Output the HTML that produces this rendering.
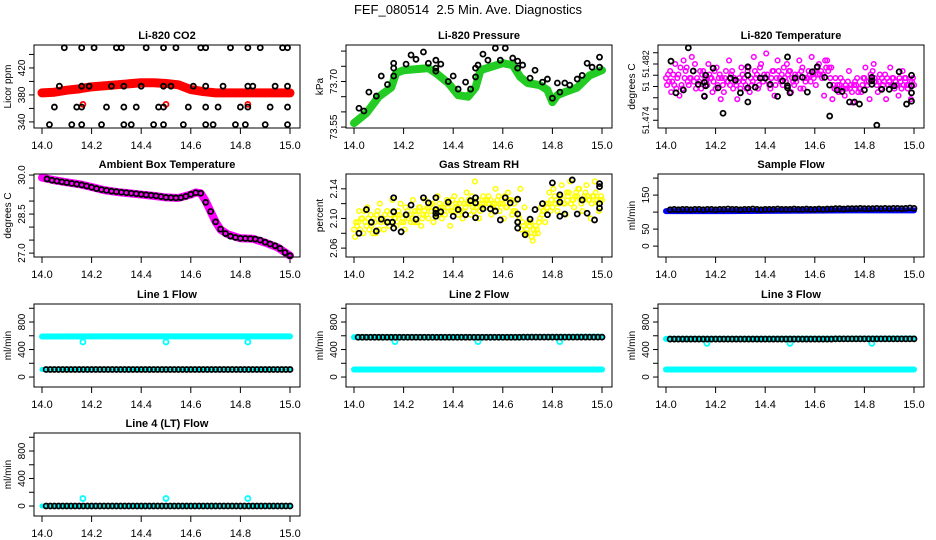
<!DOCTYPE html>
<html><head><meta charset="utf-8"><style>
html,body{margin:0;padding:0;background:#fff;}
svg{display:block;font-family:"Liberation Sans",Arial,sans-serif;}
</style></head><body>
<svg id="chart" width="936" height="540" viewBox="0 0 936 540" xmlns="http://www.w3.org/2000/svg">
<rect width="936" height="540" fill="#fff"/>
<text x="468" y="14" text-anchor="middle" font-size="13" style="white-space:pre">FEF_080514  2.5 Min. Ave. Diagnostics</text>
</svg>
<script>
// ---------- data ----------
const xTicks=[14.0,14.2,14.4,14.6,14.8,15.0];
// CO2
const co2BandX=[14.0,14.05,14.1,14.15,14.2,14.3,14.4,14.45,14.5,14.55,14.6,14.65,14.7,14.8,14.9,15.0];
const co2Band=[383,384,387,389,392,395,398,398,397,395,388,385,383,383,383,383];
const co2RedX=[14.165,14.5,14.83];
const co2Red=[366,366,366];
const co2BlackX=[14.09,14.16,14.21,14.30,14.32,14.42,14.49,14.54,14.64,14.66,14.76,14.83,14.88,14.97,14.99,
14.07,14.16,14.19,14.28,14.33,14.40,14.49,14.52,14.61,14.66,14.73,14.83,14.85,14.94,14.99,
14.05,14.14,14.16,14.26,14.33,14.38,14.47,14.49,14.59,14.66,14.71,14.80,14.83,14.92,14.99,
14.03,14.12,14.16,14.24,14.33,14.36,14.45,14.49,14.57,14.66,14.69,14.78,14.82,14.90,14.99];
const co2Black=[450,450,450,450,450,450,450,450,450,450,450,450,450,450,450,
393,393,393,393,393,393,393,393,393,393,393,393,393,393,393,
362,362,362,362,362,362,362,362,362,362,362,362,362,362,362,
336,336,336,336,336,336,336,336,336,336,336,336,336,336,336];
// Pressure
const prBandX=[14.0,14.05,14.1,14.15,14.17,14.2,14.3,14.33,14.38,14.42,14.46,14.49,14.51,14.6,14.64,14.67,14.7,14.75,14.78,14.8,14.82,14.85,14.9,14.95,15.0];
const prBand=[73.563,73.596,73.65,73.68,73.728,73.737,73.744,73.728,73.695,73.655,73.65,73.68,73.737,73.76,73.754,73.715,73.695,73.688,73.672,73.632,73.655,73.665,73.68,73.72,73.737];
const prBlackX=[14.02,14.04,14.06,14.09,14.11,14.135,14.16,14.16,14.16,14.21,14.23,14.25,14.28,14.30,14.33,14.33,14.33,14.35,14.38,14.40,14.42,14.45,14.47,14.49,14.49,14.50,14.52,14.54,14.57,14.59,14.61,14.64,14.66,14.66,14.68,14.71,14.73,14.76,14.78,14.80,14.82,14.83,14.85,14.87,14.90,14.92,14.94,14.96,14.99,14.99];
const prBlack=[73.612,73.603,73.665,73.652,73.718,73.69,73.76,73.744,73.718,73.757,73.787,73.773,73.797,73.76,73.77,73.744,73.734,73.757,73.70,73.718,73.675,73.698,73.675,73.744,73.715,73.754,73.79,73.77,73.81,73.77,73.81,73.777,73.767,73.744,73.754,73.711,73.737,73.698,73.708,73.645,73.695,73.665,73.695,73.688,73.708,73.72,73.76,73.747,73.78,73.747];
// Li-820 temperature
const pinkA=[51.4800,51.4810,51.4790,51.4805,51.4785,51.4815,51.4800,51.4820,51.4795,51.4810,51.4790,51.4800,51.4785,51.4805,51.4780,51.4795,51.4810,51.4790,51.4785,51.4800,51.4815,51.4795,51.4805,51.4820,51.4800,51.4790,51.4810,51.4825,51.4805,51.4795,51.4810,51.4790,51.4805,51.4815,51.4800,51.4795,51.4810,51.4820,51.4805,51.4825,51.4815,51.4800,51.4790,51.4785,51.4795,51.4780,51.4790,51.4785,51.4800,51.4795,51.4810,51.4790,51.4785,51.4805,51.4795,51.4800,51.4790,51.4785,51.4800,51.4795,51.4790];
const pinkB=[51.4790,51.4780,51.4820,51.4775,51.4825,51.4795,51.4830,51.4785,51.4810,51.4775,51.4820,51.4780,51.4815,51.4770,51.4800,51.4825,51.4785,51.4770,51.4815,51.4790,51.4780,51.4830,51.4785,51.4800,51.4835,51.4785,51.4775,51.4810,51.4790,51.4820,51.4780,51.4805,51.4825,51.4785,51.4800,51.4830,51.4790,51.4805,51.4775,51.4810,51.4770,51.4785,51.4800,51.4775,51.4810,51.4765,51.4800,51.4780,51.4815,51.4770,51.4820,51.4780,51.4800,51.4770,51.4815,51.4785,51.4775,51.4810,51.4790,51.4770,51.4800];
const pinkC=[51.4805,51.4795,51.4785,51.4815,51.4800,51.4790,51.4810,51.4800,51.4785,51.4800,51.4805,51.4795,51.4790,51.4800,51.4810,51.4790,51.4800,51.4795,51.4805,51.4785,51.4800,51.4810,51.4790,51.4795,51.4805,51.4800,51.4790,51.4800,51.4815,51.4805,51.4800,51.4795,51.4785,51.4800,51.4810,51.4805,51.4815,51.4810,51.4825,51.4815,51.4790,51.4790,51.4785,51.4790,51.4785,51.4790,51.4780,51.4790,51.4795,51.4805,51.4800,51.4795,51.4790,51.4800,51.4790,51.4795,51.4800,51.4790,51.4785,51.4795,51.4800];
const pinkD=[51.4795,51.4805,51.4800,51.4790,51.4810,51.4800,51.4795,51.4790,51.4805,51.4795,51.4800,51.4810,51.4800,51.4790,51.4795,51.4805,51.4795,51.4800,51.4795,51.4810,51.4790,51.4800,51.4815,51.4805,51.4795,51.4810,51.4800,51.4795,51.4800,51.4810,51.4795,51.4800,51.4810,51.4795,51.4805,51.4800,51.4805,51.4800,51.4815,51.4800,51.4785,51.4780,51.4795,51.4785,51.4790,51.4795,51.4785,51.4800,51.4790,51.4800,51.4795,51.4805,51.4795,51.4790,51.4800,51.4790,51.4795,51.4800,51.4790,51.4800,51.4795];
const tBlackX=[14.02,14.04,14.07,14.09,14.11,14.13,14.155,14.16,14.16,14.155,14.19,14.21,14.23,14.26,14.28,14.30,14.33,14.33,14.33,14.33,14.36,14.38,14.40,14.42,14.45,14.47,14.49,14.49,14.49,14.50,14.52,14.55,14.57,14.59,14.61,14.64,14.66,14.66,14.69,14.71,14.74,14.76,14.78,14.80,14.83,14.83,14.83,14.85,14.87,14.90,14.92,14.94,14.97,14.99,14.99,14.99,14.99];
const tBlack=[51.4824,51.4779,51.4783,51.4843,51.4810,51.4791,51.4794,51.4804,51.4789,51.4774,51.4814,51.4786,51.4750,51.4800,51.4797,51.4779,51.4786,51.4804,51.4816,51.4766,51.4787,51.4800,51.4800,51.4791,51.4774,51.4796,51.4789,51.4786,51.4830,51.4779,51.4800,51.4801,51.4780,51.4809,51.4816,51.4801,51.4790,51.4746,51.4783,51.4781,51.4766,51.4766,51.4763,51.4783,51.4791,51.4801,51.4796,51.4733,51.4784,51.4784,51.4789,51.4809,51.4763,51.4804,51.4789,51.4779,51.4767];
// Ambient box temperature
const ambBandX=[14.0,14.05,14.1,14.15,14.2,14.25,14.3,14.35,14.4,14.45,14.5,14.55,14.6,14.62,14.64,14.66,14.68,14.7,14.72,14.75,14.8,14.85,14.9,14.95,15.0];
const ambBand=[29.9,29.8,29.72,29.65,29.54,29.42,29.35,29.3,29.25,29.2,29.14,29.12,29.25,29.33,29.3,29.0,28.6,28.2,27.9,27.72,27.57,27.55,27.4,27.22,26.9];
const ambBlack=[29.85,29.8,29.77,29.74,29.71,29.68,29.65,29.62,29.58,29.53,29.48,29.44,29.41,29.38,29.36,29.34,29.32,29.30,29.28,29.26,29.24,29.22,29.20,29.17,29.14,29.13,29.12,29.13,29.18,29.26,29.32,29.3,28.95,28.6,28.2,27.92,27.75,27.65,27.6,27.57,27.56,27.55,27.54,27.5,27.42,27.35,27.28,27.18,27.02,26.9];
// Gas stream RH
const yelA=[2.085,2.095,2.100,2.090,2.105,2.095,2.085,2.100,2.110,2.095,2.100,2.105,2.095,2.110,2.100,2.105,2.115,2.110,2.100,2.120,2.110,2.115,2.105,2.120,2.110,2.115,2.125,2.115,2.120,2.110,2.125,2.120,2.115,2.125,2.120,2.130,2.120,2.115,2.125,2.110,2.100,2.090,2.080,2.075,2.090,2.100,2.110,2.120,2.115,2.125,2.130,2.120,2.135,2.125,2.130,2.120,2.135,2.125,2.130,2.120,2.125];
const yelB=[2.075,2.110,2.080,2.115,2.090,2.080,2.120,2.085,2.095,2.125,2.090,2.120,2.085,2.100,2.125,2.095,2.090,2.125,2.115,2.095,2.130,2.100,2.120,2.090,2.130,2.105,2.100,2.135,2.105,2.150,2.100,2.130,2.125,2.105,2.140,2.110,2.100,2.135,2.105,2.125,2.140,2.115,2.095,2.070,2.085,2.115,2.095,2.135,2.140,2.110,2.145,2.105,2.150,2.115,2.140,2.110,2.145,2.100,2.150,2.110,2.140];
const yelC=[2.095,2.085,2.110,2.100,2.080,2.105,2.095,2.105,2.090,2.110,2.105,2.095,2.115,2.105,2.095,2.110,2.100,2.105,2.120,2.110,2.105,2.115,2.125,2.110,2.115,2.120,2.110,2.120,2.130,2.115,2.110,2.120,2.130,2.120,2.115,2.120,2.130,2.125,2.110,2.095,2.085,2.080,2.090,2.085,2.080,2.105,2.120,2.110,2.130,2.120,2.125,2.135,2.120,2.130,2.140,2.125,2.130,2.120,2.135,2.125,2.130];
const yelD=[2.090,2.100,2.095,2.085,2.100,2.110,2.100,2.095,2.105,2.100,2.110,2.100,2.105,2.095,2.110,2.115,2.105,2.115,2.110,2.105,2.120,2.110,2.115,2.125,2.120,2.110,2.120,2.125,2.115,2.120,2.115,2.125,2.120,2.115,2.125,2.125,2.115,2.120,2.120,2.105,2.095,2.085,2.095,2.080,2.095,2.110,2.115,2.125,2.120,2.130,2.120,2.130,2.125,2.135,2.125,2.130,2.125,2.130,2.125,2.130,2.120];
const rhBlackX=[14.02,14.05,14.07,14.09,14.11,14.135,14.155,14.16,14.16,14.16,14.19,14.21,14.23,14.25,14.28,14.30,14.33,14.33,14.33,14.33,14.35,14.38,14.40,14.42,14.45,14.47,14.49,14.49,14.49,14.52,14.55,14.57,14.59,14.61,14.63,14.66,14.66,14.66,14.66,14.69,14.71,14.73,14.76,14.78,14.80,14.83,14.83,14.83,14.85,14.88,14.90,14.92,14.94,14.97,14.99,14.99,14.99,14.99];
const rhBlack=[2.080,2.112,2.095,2.083,2.099,2.095,2.095,2.128,2.109,2.087,2.082,2.105,2.118,2.099,2.128,2.121,2.128,2.112,2.107,2.103,2.109,2.122,2.103,2.112,2.105,2.124,2.121,2.128,2.101,2.113,2.113,2.110,2.098,2.128,2.121,2.126,2.106,2.095,2.087,2.078,2.099,2.112,2.120,2.105,2.148,2.132,2.122,2.103,2.106,2.152,2.106,2.125,2.107,2.098,2.147,2.143,2.120,2.114];
// Sample flow
const flowBandX=[14.0,14.25,14.5,14.75,15.0];
const sfBand=[103,103,104,105,105];
const sfBlack=[107,108,107,108,108,107,108,108,107,108,108,107,108,108,109,108,108,107,108,108,109,108,107,108,108,108,109,108,108,108,109,108,108,109,108,108,109,108,109,109,110,110,109,110,110,110,111,110,110,110,111,110,111,110,111,111,110,111,112,111];
// Line flows
const l1Top=[590,592,592,592,592];
const l1Bottom=[110,110,110,110,110];
const l1Black=[110,110,110,110,110,110,110,110,110,110,110,110,110,110,110,110,110,110,110,110,110,110,110,110,110,110,110,110,110,110,110,110,110,110,110,110,110,110,110,110,110,110,110,110,110,110,110,110,110,110,110,110,110,110,110,110,110,110,110,110];
const l2Top=[580,580,580,582,585];
const l2Bottom=[110,110,110,110,110];
const l2Black=[578,578,578,578,578,578,578,578,578,578,578,578,578,578,578,578,578,578,578,578,578,578,578,578,578,578,578,578,578,578,578,578,578,578,578,578,578,578,578,578,580,580,580,580,580,580,580,580,580,580,580,580,580,580,580,580,580,580,580,580];
const l3Top=[555,555,556,557,560];
const l3Bottom=[110,110,110,110,110];
const l3Black=[552,552,552,552,552,552,552,552,552,552,552,552,552,552,552,552,552,552,552,552,552,552,552,552,552,552,552,552,552,552,552,552,552,552,552,552,552,552,552,552,555,555,555,555,555,555,555,555,555,555,555,555,555,555,555,555,555,555,555,555];
const l4Band=[0,0,0,0,0];
const l4Black=[0,0,0,0,0,0,0,0,0,0,0,0,0,0,0,0,0,0,0,0,0,0,0,0,0,0,0,0,0,0,0,0,0,0,0,0,0,0,0,0,0,0,0,0,0,0,0,0,0,0,0,0,0,0,0,0,0,0,0,0];
const outX=[14.165,14.5,14.83];
const l1Out=[510,510,510];
const l2Out=[515,515,515];
const l3Out=[490,490,490];
const l4Out=[110,110,110];

// ---------- drawing ----------
const NS='http://www.w3.org/2000/svg';
const svg=document.getElementById('chart');
function mk(tag,attrs,parent){const e=document.createElementNS(NS,tag);for(const k in attrs)e.setAttribute(k,attrs[k]);(parent||svg).appendChild(e);return e;}
const colL=[34,346,658], rowT=[45,174,304,433], W=266, H=83;

function panel(col,row,title,ylab,ymin,ymax,yTicks,yLabels,name,lblSize){
  const L=colL[col],T=rowT[row];
  const g=mk('g',{});
  
  
  const sx=v=>L+8+(v-14)*248;
  const sy=v=>T+H-(v-ymin)/(ymax-ymin)*H;
  const t=mk('text',{x:L+W/2,y:T-6,'text-anchor':'middle','font-size':'11','font-weight':'bold'},g);
  t.textContent=title;
  
  
  const yl=mk('text',{x:0,y:0,'text-anchor':'middle','font-size':'10',transform:`translate(${L-23},${T+H/2}) rotate(-90)`},g);
  yl.textContent=ylab;
  
  
  xTicks.forEach(v=>{
    const x=sx(v);
    const tk=mk('line',{x1:x,y1:T+H,x2:x,y2:T+H+6,stroke:'#000','stroke-width':1},g);
    
    
    const lb=mk('text',{x:x,y:T+H+21,'text-anchor':'middle','font-size':'11'},g);
    lb.textContent=v.toFixed(1);
    
    
  });
  yTicks.forEach(v=>{
    const y=sy(v);
    const tk=mk('line',{x1:L-5,y1:y,x2:L,y2:y,stroke:'#000','stroke-width':1},g);
    
    
  });
  yLabels.forEach(p=>{
    const y=sy(p[0]);
    const lb=mk('text',{x:0,y:0,'text-anchor':'middle','font-size':lblSize||'10',transform:`translate(${L-9},${y}) rotate(-90)`},g);
    lb.textContent=p[1];
    
    
  });
  const plot=mk('g',{},g);
  const box=mk('rect',{x:L,y:T,width:W,height:H,fill:'none',stroke:'#000','stroke-width':1},g);
  
  
  return {sx,sy,plot};
}
function band(p,xs,ys,color,w){
  const pts=xs.map((x,i)=>p.sx(x)+','+p.sy(ys[i])).join(' ');
  const pl=mk('polyline',{points:pts,fill:'none',stroke:color,'stroke-width':w,'stroke-linejoin':'round','stroke-linecap':'round'},p.plot);
  
  
}
function pts(p,xs,ys,color,r,sw){
  ys.forEach((v,i)=>{
    const x=xs[i]; if(x>15.0001)return;
    const c=mk('circle',{cx:p.sx(x),cy:p.sy(v),r:r||2.5,fill:'none',stroke:color,'stroke-width':sw||1.8},p.plot);
    
    
  });
}
const stepX=(n,off)=>{const a=[];for(let i=0;i<n;i++)a.push(14+(i+off)/60);return a;};
const ambX=ambBlack.map((_,i)=>14.02+0.02*i);

// CO2
let p=panel(0,0,'Li-820 CO2','Licor ppm',331,454,[340,360,380,400,420,440],[[340,'340'],[380,'380'],[420,'420']],'co2-panel');
band(p,co2BandX,co2Band,'#ff0000',9);
pts(p,co2RedX,co2Red,'#ff0000');
pts(p,co2BlackX,co2Black,'#000');
// Pressure
p=panel(1,0,'Li-820 Pressure','kPa',73.547,73.82,[73.55,73.60,73.65,73.70,73.75,73.80],[[73.55,'73.55'],[73.70,'73.70']],'pressure-panel');
band(p,prBandX,prBand,'#22cc22',8);
pts(p,prBlackX,prBlack,'#000');
// Temperature
p=panel(2,0,'Li-820 Temperature','degrees C',51.4729,51.4847,[51.474,51.4756,51.4772,51.4788,51.4804,51.482,51.4836],[[51.474,'51.474'],[51.4788,'51'],[51.482,'51.482']],'li820-temperature-panel','9');
pts(p,stepX(61,0),pinkA,'#ff00ff',2.3,1.5);
pts(p,stepX(61,0.25),pinkB,'#ff00ff',2.3,1.5);
pts(p,stepX(61,0.5),pinkC,'#ff00ff',2.3,1.5);
pts(p,stepX(61,0.75),pinkD,'#ff00ff',2.3,1.5);
pts(p,tBlackX,tBlack,'#000');
// Ambient
p=panel(0,1,'Ambient Box Temperature','degrees C',26.85,30.04,[27,27.5,28,28.5,29,29.5,30],[[27,'27.0'],[28.5,'28.5'],[30,'30.0']],'ambient-temperature-panel');
band(p,ambBandX,ambBand,'#ff00ff',8);
pts(p,ambX,ambBlack,'#000');
// RH
p=panel(1,1,'Gas Stream RH','percent',2.048,2.160,[2.06,2.08,2.10,2.12,2.14],[[2.06,'2.06'],[2.10,'2.10'],[2.14,'2.14']],'gas-stream-rh-panel');
pts(p,stepX(61,0),yelA,'#ffff00',2.3,1.5);
pts(p,stepX(61,0.25),yelB,'#ffff00',2.3,1.5);
pts(p,stepX(61,0.5),yelC,'#ffff00',2.3,1.5);
pts(p,stepX(61,0.75),yelD,'#ffff00',2.3,1.5);
pts(p,rhBlackX,rhBlack,'#000');
// Sample flow
p=panel(2,1,'Sample Flow','ml/min',-32,212,[0,50,100,150,200],[[0,'0'],[50,'50'],[150,'150']],'sample-flow-panel');
band(p,flowBandX,sfBand,'#0000ff',6);
pts(p,stepX(60,1),sfBlack,'#000');
// Line flows
const lt=[0,200,400,600,800,1000], ll=[[0,'0'],[400,'400'],[800,'800']];
p=panel(0,2,'Line 1 Flow','ml/min',-145,1062,lt,ll,'line1-flow-panel');
band(p,flowBandX,l1Top,'#00ffff',6);
band(p,flowBandX,l1Bottom,'#00ffff',5);
pts(p,outX,l1Out,'#00ffff');
pts(p,stepX(60,1),l1Black,'#000');
p=panel(1,2,'Line 2 Flow','ml/min',-145,1062,lt,ll,'line2-flow-panel');
band(p,flowBandX,l2Top,'#00ffff',6);
band(p,flowBandX,l2Bottom,'#00ffff',6);
pts(p,outX,l2Out,'#00ffff');
pts(p,stepX(60,1),l2Black,'#000');
p=panel(2,2,'Line 3 Flow','ml/min',-145,1062,lt,ll,'line3-flow-panel');
band(p,flowBandX,l3Top,'#00ffff',6);
band(p,flowBandX,l3Bottom,'#00ffff',6);
pts(p,outX,l3Out,'#00ffff');
pts(p,stepX(60,1),l3Black,'#000');
p=panel(0,3,'Line 4 (LT) Flow','ml/min',-145,1062,lt,ll,'line4-flow-panel');
band(p,flowBandX,l4Band,'#00ffff',5);
pts(p,outX,l4Out,'#00ffff');
pts(p,stepX(60,1),l4Black,'#000');
</script>
</body></html>
